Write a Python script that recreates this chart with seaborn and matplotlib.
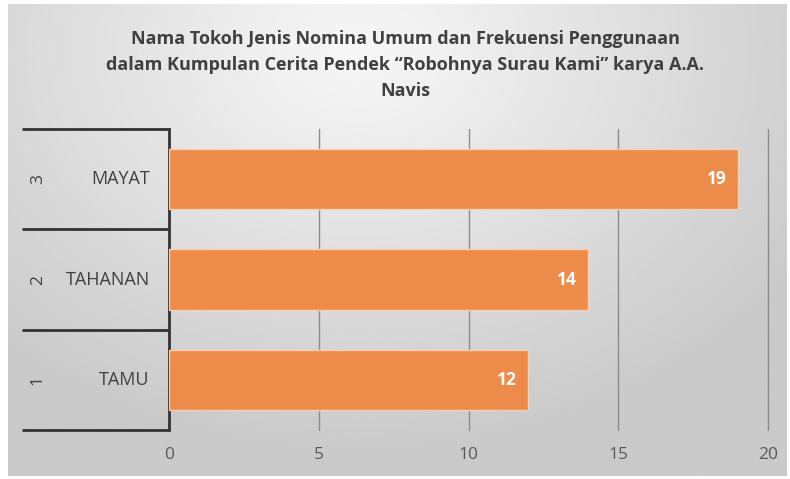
import numpy as np
import pandas as pd
import seaborn as sns
import matplotlib.pyplot as plt

# data
names = ["MAYAT", "TAHANAN", "TAMU"]
ranks = ["3", "2", "1"]
counts = [19, 14, 12]
xticks = [0, 5, 10, 15, 20]
title = ("Nama Tokoh Jenis Nomina Umum dan Frekuensi Penggunaan\n"
         "dalam Kumpulan Cerita Pendek \u201cRobohnya Surau Kami\u201d karya A.A.\n"
         "Navis")

df = pd.DataFrame({"nama": names, "frekuensi": counts})

sns.set_theme(style="white")
plt.rcParams["font.family"] = ["Open Sans", "DejaVu Sans"]

fig = plt.figure(figsize=(7.9, 4.79), dpi=100)
fig.patch.set_facecolor("white")

# gradient background like the excel chart area
bg = fig.add_axes([8 / 790, 3 / 479, 778 / 790, 472 / 479])
yy, xx = np.mgrid[0:1:200j, 0:1:300j]
r = np.sqrt(((xx - 0.45) / 0.75) ** 2 + ((yy - 0.1) / 0.95) ** 2)
shade = np.clip(0.97 - 0.2 * r, 0.79, 0.97)
bg.imshow(shade, cmap="gray", vmin=0, vmax=1, aspect="auto", extent=[0, 1, 0, 1])
bg.set_axis_off()

ax = fig.add_axes([169 / 790, 49 / 479, 599 / 790, 301 / 479])
ax.patch.set_alpha(0)

sns.barplot(data=df, x="frekuensi", y="nama", orient="h", order=names,
            color="#ed8b4a", width=0.6, edgecolor="#f8cfb2", linewidth=1,
            saturation=1, ax=ax, zorder=3)

ax.set_xlim(0, 20)
ax.set_ylim(2.5, -0.5)
ax.set_xticks(xticks)
ax.set_xticklabels([str(t) for t in xticks], color="#595959", fontsize=12.5)
ax.tick_params(axis="x", length=0, pad=12)
ax.set_yticks([])
ax.set_xlabel("")
ax.set_ylabel("")

for s in ["top", "right", "bottom"]:
    ax.spines[s].set_visible(False)
ax.spines["left"].set_color("#333333")
ax.spines["left"].set_linewidth(2)

for t in xticks[1:]:
    ax.axvline(t, color="#8c8c8c", linewidth=1, zorder=1, clip_on=False)

# value labels
for i, v in enumerate(counts):
    ax.annotate(str(v), (v, i), xytext=(-8, 0), textcoords="offset points",
                ha="right", va="center", color="white", fontsize=12.5,
                fontweight="bold", zorder=4)

# two-level category axis on the left
tr = ax.get_yaxis_transform()
for y in [-0.5, 0.5, 1.5, 2.5]:
    ax.plot([-0.245, 0], [y, y], color="#333333", linewidth=2,
            transform=tr, clip_on=False, solid_capstyle="butt")
for i, (n, r_) in enumerate(zip(names, ranks)):
    ax.text(-0.032, i, n, transform=tr, ha="right", va="center",
            color="#404040", fontsize=13)
    ax.text(-0.219, i, r_, transform=tr, ha="center", va="center",
            color="#404040", fontsize=12.5, rotation=90)

fig.text(0.513, 0.937, title, ha="center", va="top", fontsize=13,
         fontweight="bold", color="#404040", linespacing=1.55)

fig.savefig("out.png", dpi=100)
